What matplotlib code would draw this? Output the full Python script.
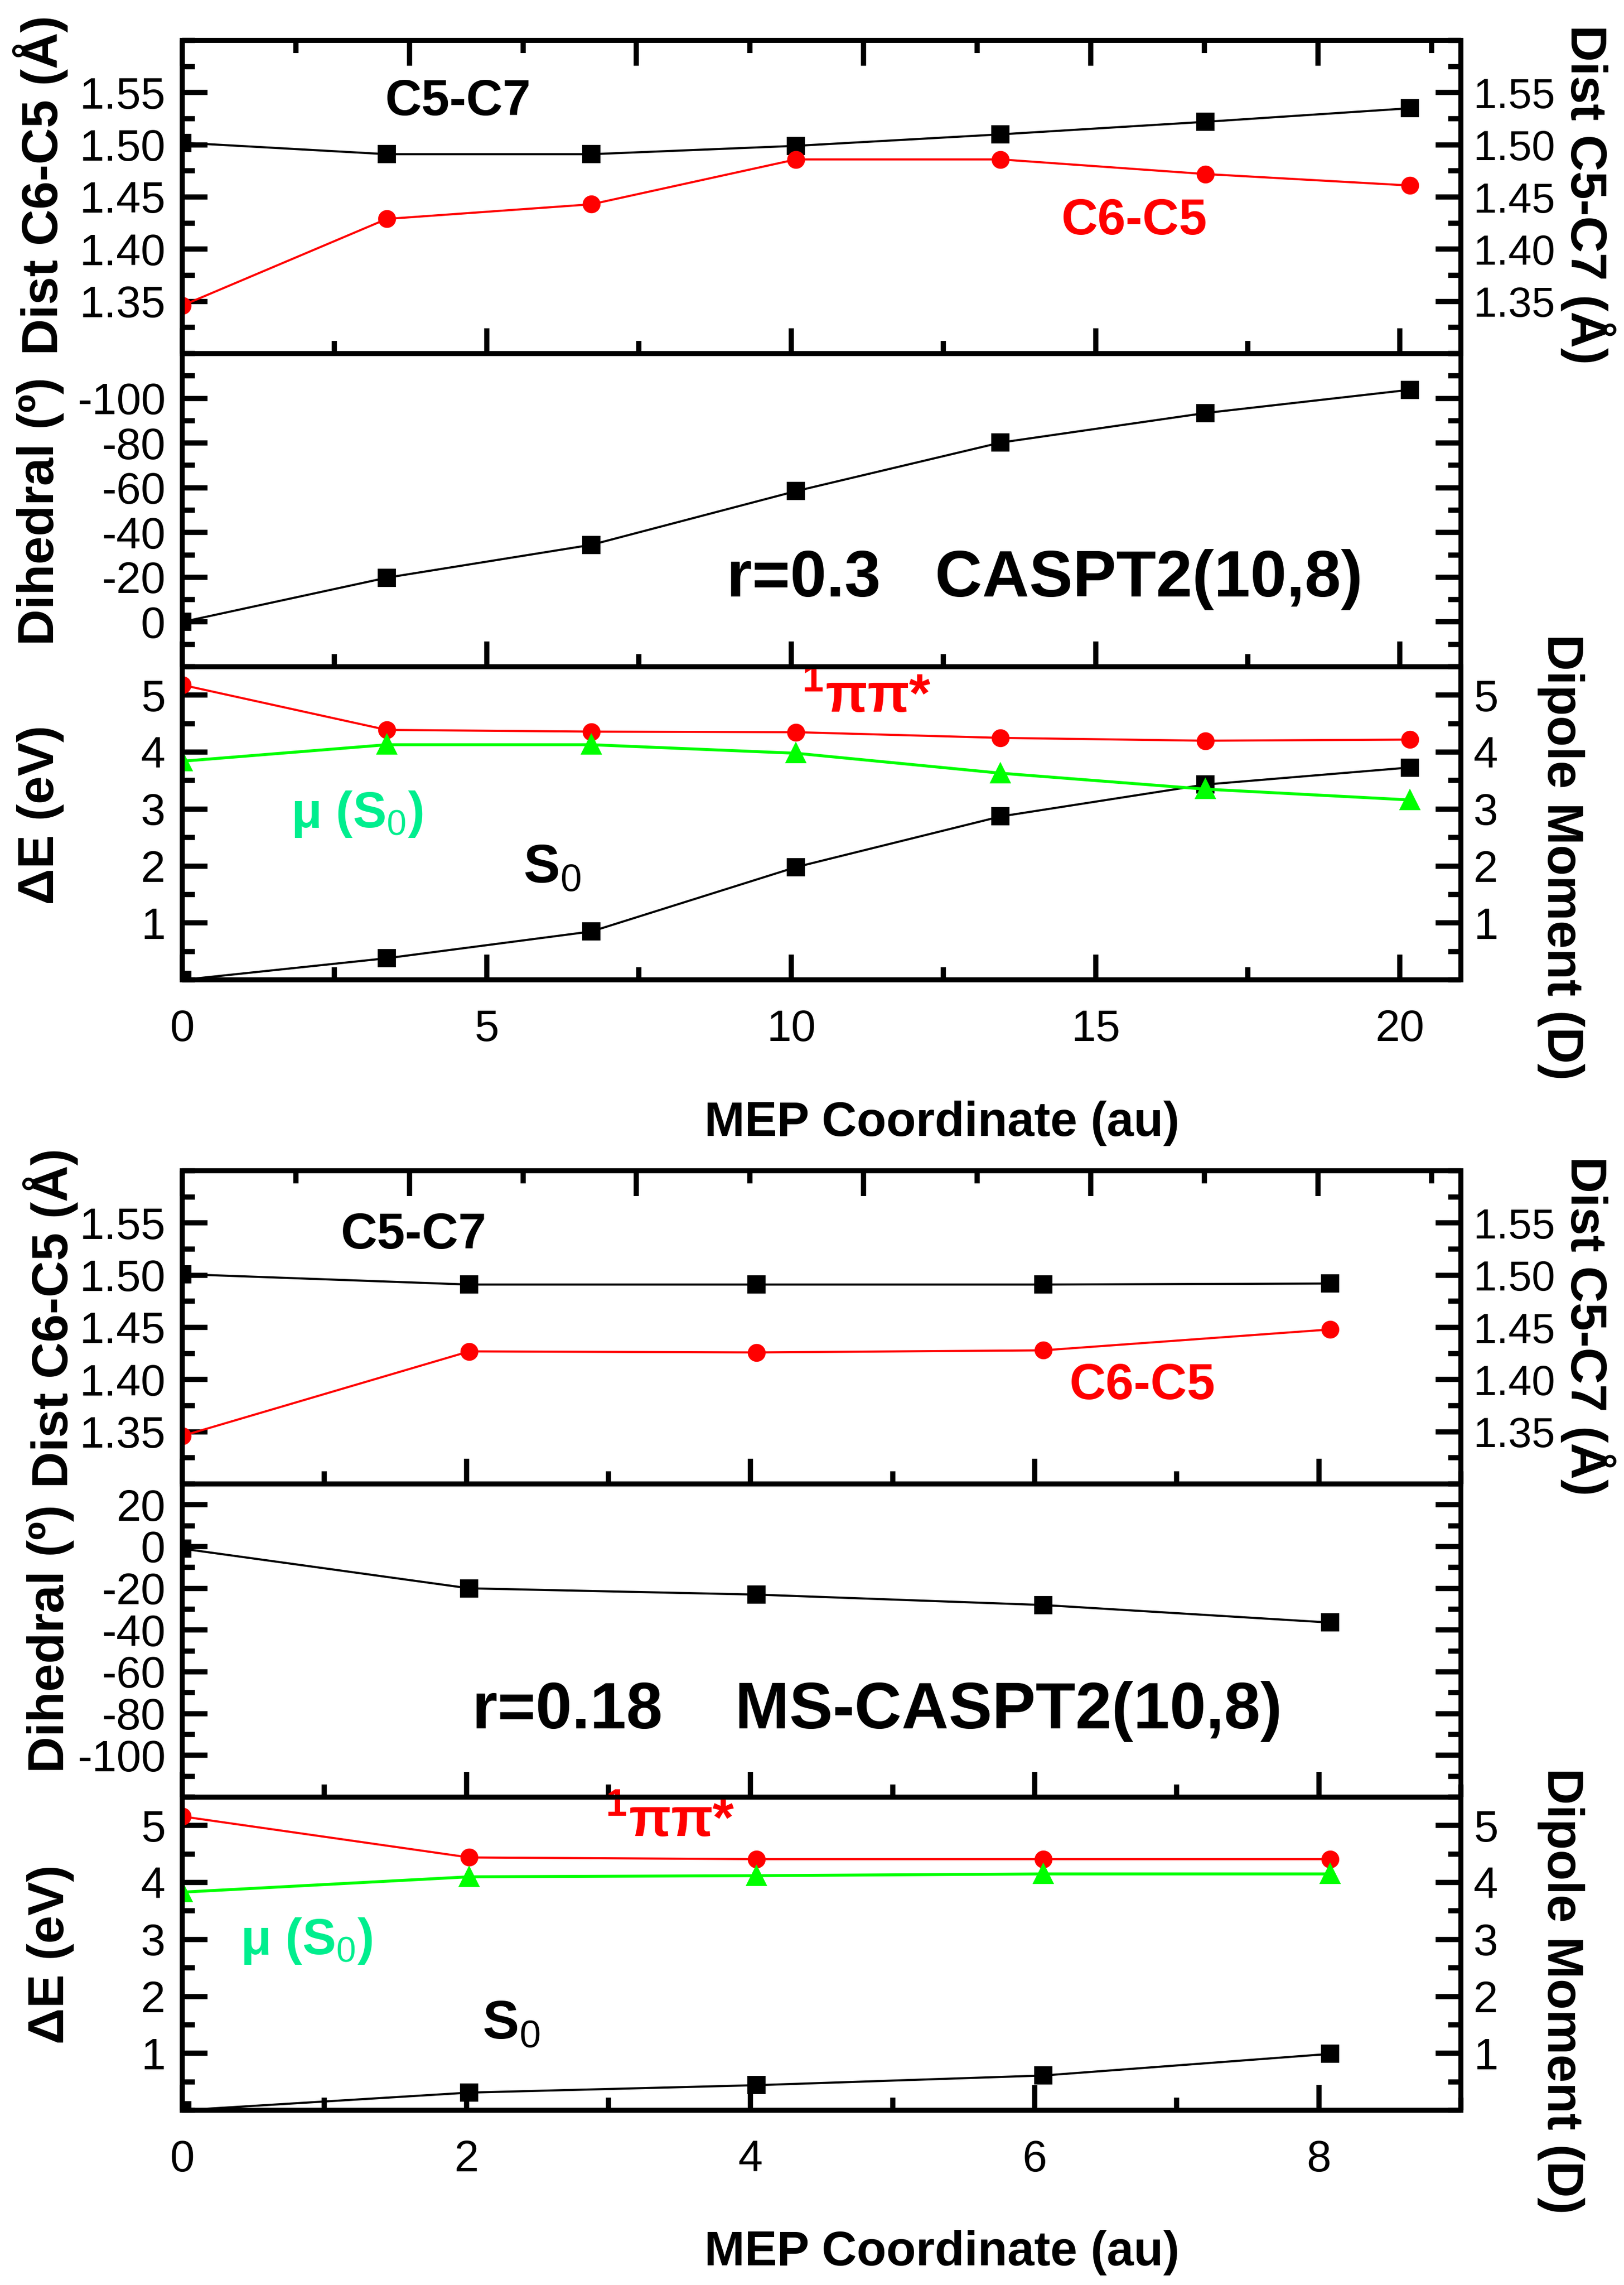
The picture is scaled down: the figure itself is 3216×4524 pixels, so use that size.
import matplotlib
matplotlib.use('Agg')
import matplotlib.pyplot as plt
from matplotlib.ticker import MultipleLocator, FixedLocator, FuncFormatter

plt.rcParams['font.family'] = ['Liberation Sans', 'DejaVu Sans']
plt.rcParams['mathtext.fontset'] = 'custom'
plt.rcParams['mathtext.rm'] = 'Liberation Sans'
plt.rcParams['mathtext.bf'] = 'Liberation Sans:bold'
plt.rcParams['mathtext.it'] = 'Liberation Sans:italic'
plt.rcParams['axes.unicode_minus'] = False

# r=0.3  CASPT2(10,8)
mep_a = [0, 3.36, 6.72, 10.08, 13.44, 16.80, 20.16]
c5c7_a = [1.502, 1.491, 1.491, 1.499, 1.510, 1.522, 1.535]
c6c5_a = [1.346, 1.429, 1.443, 1.486, 1.486, 1.472, 1.461]
dihedral_a = [0, -19.8, -34.5, -58.5, -80.2, -93.4, -103.8]
pipi_a = [5.18, 4.39, 4.36, 4.35, 4.25, 4.20, 4.22]
s0_a = [0.0, 0.38, 0.85, 1.98, 2.87, 3.43, 3.73]
dipole_a = [3.84, 4.13, 4.13, 3.98, 3.63, 3.35, 3.16]

# r=0.18  MS-CASPT2(10,8)
mep_b = [0, 2.02, 4.04, 6.06, 8.08]
c5c7_b = [1.501, 1.491, 1.491, 1.491, 1.492]
c6c5_b = [1.346, 1.427, 1.426, 1.428, 1.448]
dihedral_b = [-1, -20, -23, -28, -36.4]
pipi_b = [5.16, 4.44, 4.41, 4.41, 4.41]
s0_b = [0.0, 0.31, 0.44, 0.61, 0.99]
dipole_b = [3.83, 4.10, 4.12, 4.15, 4.15]

dist_ticks = [1.35, 1.40, 1.45, 1.50, 1.55]
energy_ticks = [1, 2, 3, 4, 5]
dih_ticks = [0, -20, -40, -60, -80, -100]
dih_ticks_b = [20, 0, -20, -40, -60, -80, -100]

W, H = 3216, 4524
fig = plt.figure(figsize=(W / 300, H / 300), dpi=300)


def rect(top_px, bottom_px):
    return [361 / W, 1 - bottom_px / H, 2532 / W, (bottom_px - top_px) / H]


def base_style(ax):
    for s in ax.spines.values():
        s.set_linewidth(2.3)
    ax.tick_params(which='both', direction='in', width=2.5, labelsize=21, pad=8)
    ax.tick_params(which='major', length=12)
    ax.tick_params(which='minor', length=6)


def draw_group(tops, mep, c5c7, c6c5, dihedral, pipi, s0, dipole,
               xmax, xstep, dih_lim, dih_major):
    ax_d = fig.add_axes(rect(tops[0], tops[1]))
    ax_h = fig.add_axes(rect(tops[1], tops[2]))
    ax_e = fig.add_axes(rect(tops[2], tops[3]))
    top = ax_d.twiny()
    right_d = ax_d.twinx()
    right_e = ax_e.twinx()

    ax_d.plot(mep, c5c7, '-s', color='black', lw=1.0, ms=7.5)
    ax_d.plot(mep, c6c5, '-o', color='red', lw=1.0, ms=7.5)
    ax_h.plot(mep, dihedral, '-s', color='black', lw=1.0, ms=7.5)
    ax_e.plot(mep, s0, '-s', color='black', lw=1.0, ms=7.5)
    ax_e.plot(mep, pipi, '-o', color='red', lw=1.0, ms=7.5)
    right_e.plot(mep, dipole, '-^', color='#00ff00', lw=1.4, ms=8.5)

    for ax in (ax_d, ax_h, ax_e):
        ax.set_xlim(0, xmax)
        ax.xaxis.set_major_locator(MultipleLocator(xstep))
        ax.xaxis.set_minor_locator(MultipleLocator(xstep / 2))
        base_style(ax)
        ax.tick_params(axis='x', which='both', bottom=True, top=False, labelbottom=False)
    ax_e.tick_params(axis='x', labelbottom=True, pad=14)

    fmt = FuncFormatter(lambda v, p: '%d' % round(v))

    ax_d.set_ylim(1.30, 1.60)
    ax_d.yaxis.set_major_locator(FixedLocator(dist_ticks))
    ax_d.yaxis.set_minor_locator(MultipleLocator(0.025))
    ax_d.yaxis.set_major_formatter(FuncFormatter(lambda v, p: '%.2f' % v))
    ax_d.tick_params(axis='y', which='both', left=True, right=False)

    ax_h.set_ylim(*dih_lim)
    ax_h.yaxis.set_major_locator(FixedLocator(dih_major))
    ax_h.yaxis.set_minor_locator(MultipleLocator(10))
    ax_h.yaxis.set_major_formatter(fmt)
    ax_h.tick_params(axis='y', which='both', left=True, right=True)

    ax_e.set_ylim(0, 5.5)
    ax_e.yaxis.set_major_locator(FixedLocator(energy_ticks))
    ax_e.yaxis.set_minor_locator(MultipleLocator(0.5))
    ax_e.yaxis.set_major_formatter(fmt)
    ax_e.tick_params(axis='y', which='both', left=True, right=False)

    right_d.set_ylim(1.30, 1.60)
    right_d.yaxis.set_major_locator(FixedLocator(dist_ticks))
    right_d.yaxis.set_minor_locator(MultipleLocator(0.025))
    right_d.yaxis.set_major_formatter(FuncFormatter(lambda v, p: '%.2f' % v))
    base_style(right_d)
    right_d.tick_params(axis='y', which='both', left=False, right=True, pad=6, labelsize=20)

    right_e.set_ylim(0, 5.5)
    right_e.yaxis.set_major_locator(FixedLocator(energy_ticks))
    right_e.yaxis.set_minor_locator(MultipleLocator(0.5))
    right_e.yaxis.set_major_formatter(fmt)
    base_style(right_e)
    right_e.tick_params(axis='y', which='both', left=False, right=True, pad=6)

    top.set_xlim(0, 5.63)
    top.xaxis.set_major_locator(MultipleLocator(1))
    top.xaxis.set_minor_locator(MultipleLocator(0.5))
    base_style(top)
    top.tick_params(axis='x', which='both', top=True, bottom=False, labeltop=False)

    return ax_d, ax_h, ax_e


bold = dict(fontweight='bold')

# ---- upper group ----
d1, h1, e1 = draw_group((80, 700, 1320, 1940), mep_a, c5c7_a, c6c5_a, dihedral_a,
                        pipi_a, s0_a, dipole_a, 21, 5, (20, -120), dih_ticks)
d1.text(4.53, 1.541, 'C5-C7', fontsize=24, ha='center', va='center', **bold)
d1.text(15.64, 1.427, 'C6-C5', fontsize=24, color='red', ha='center', va='center', **bold)
h1.text(14.16, -19, 'r=0.3   CASPT2(10,8)', fontsize=31, ha='center', va='center', **bold)
e1.text(10.18, 4.95, r'$^{\mathbf{1}}$ππ*', fontsize=26, color='red', ha='left', va='center', **bold)
e1.text(1.78, 2.91, r'μ (S$_0$)', fontsize=24, color='#00ee8e', ha='left', va='center', **bold)
e1.text(5.6, 1.95, r'S$_0$', fontsize=26, ha='left', va='center', **bold)

# ---- lower group ----
d2, h2, e2 = draw_group((2318, 2938, 3558, 4178), mep_b, c5c7_b, c6c5_b, dihedral_b,
                        pipi_b, s0_b, dipole_b, 9, 2, (-120, 30), dih_ticks_b)
d2.text(1.63, 1.538, 'C5-C7', fontsize=24, ha='center', va='center', **bold)
d2.text(6.76, 1.394, 'C6-C5', fontsize=24, color='red', ha='center', va='center', **bold)
h2.text(4.89, -79, 'r=0.18    MS-CASPT2(10,8)', fontsize=31, ha='center', va='center', **bold)
e2.text(2.98, 5.05, r'$^{\mathbf{1}}$ππ*', fontsize=26, color='red', ha='left', va='center', **bold)
e2.text(0.41, 2.97, r'μ (S$_0$)', fontsize=24, color='#00ee8e', ha='left', va='center', **bold)
e2.text(2.11, 1.5, r'S$_0$', fontsize=26, ha='left', va='center', **bold)

# axis titles
lab = dict(fontsize=24, fontweight='bold', ha='center', va='center')
for x, y_list in ((80, (367, 1012, 1613)), (100, (2610, 3244, 3869))):
    fig.text(x / W, 1 - y_list[0] / H, 'Dist C6-C5 (Å)', rotation=90, **lab)
    fig.text(x / W, 1 - y_list[1] / H, 'Dihedral (º)', rotation=90, **lab)
    fig.text(x / W, 1 - y_list[2] / H, 'ΔE (eV)', rotation=90, **lab)

fig.text(3145 / W, 1 - 385 / H, 'Dist C5-C7 (Å)', rotation=270, **lab)
fig.text(3145 / W, 1 - 2625 / H, 'Dist C5-C7 (Å)', rotation=270, **lab)
fig.text(3091 / W, 1 - 1697 / H, 'Dipole Moment (D)', rotation=270, **lab)
fig.text(3091 / W, 1 - 3942 / H, 'Dipole Moment (D)', rotation=270, **lab)

fig.text(1865 / W, 1 - 2224 / H, 'MEP Coordinate (au)', fontsize=23, fontweight='bold',
         ha='center', va='center')
fig.text(1865 / W, 1 - 4460 / H, 'MEP Coordinate (au)', fontsize=23, fontweight='bold',
         ha='center', va='center')

fig.savefig('out.png', dpi=300)
